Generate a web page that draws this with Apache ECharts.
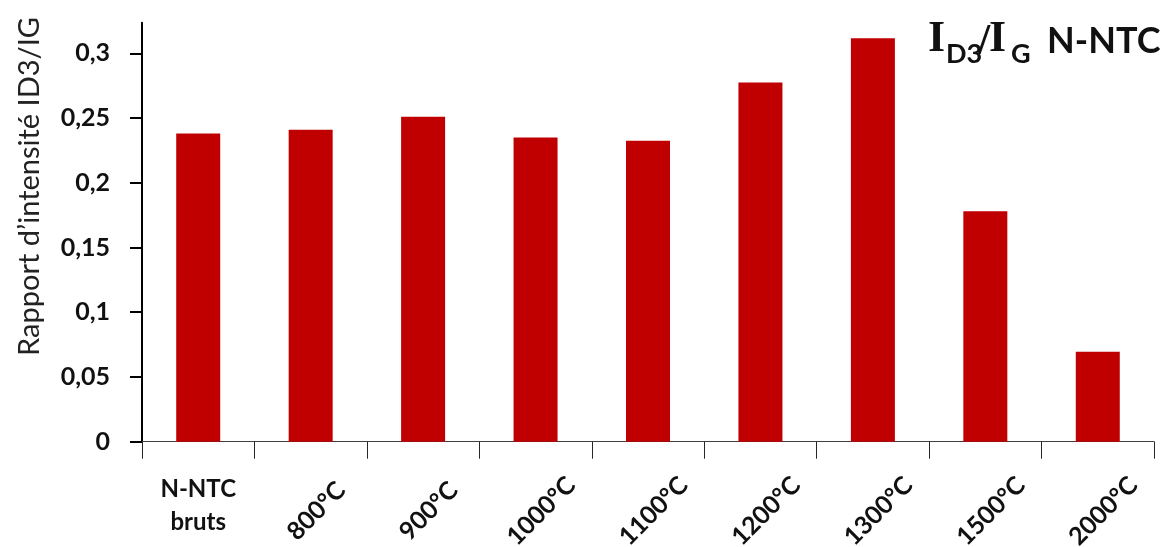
<!DOCTYPE html>
<html>
<head>
<meta charset="utf-8">
<script src="https://cdn.jsdelivr.net/npm/echarts@6/dist/echarts.min.js"></script>
<style>
  html, body { margin: 0; padding: 0; background: #ffffff; }
  #chart { width: 1173px; height: 547px; }
</style>
</head>
<body>
<div id="chart"></div>
<script>
// ---- data ----
const categories = ['N-NTC\nbruts', '800°C', '900°C', '1000°C', '1100°C', '1200°C', '1300°C', '1500°C', '2000°C'];
const ratioValues = [0.238, 0.241, 0.251, 0.235, 0.2325, 0.2775, 0.3115, 0.178, 0.0695];
const yTicks = [0, 0.05, 0.1, 0.15, 0.2, 0.25, 0.3];
const yAxisTitle = 'Rapport d’intensité ID3/IG';
const titleParts = ['I', 'D3', '/', 'I', 'G', 'N-NTC'];

const chart = echarts.init(document.getElementById('chart'), null, { renderer: 'canvas' });

const sans = 'Lato';
const serif = '"Liberation Serif", "Times New Roman", serif';

const option = {
  backgroundColor: '#ffffff',
  animation: false,
  grid: {
    left: 142, right: 19, top: 22.7, bottom: 105.3,
    containLabel: false, outerBoundsMode: 'none'
  },
  xAxis: [
    {
      type: 'category',
      data: categories,
      boundaryGap: true,
      axisLine: { show: true, lineStyle: { color: '#404040', width: 1 } },
      axisTick: { show: true, interval: 0, length: 17, lineStyle: { color: '#262626', width: 1 } },
      axisLabel: {
        interval: 0, rotate: 45, hideOverlap: false,
        align: 'center', padding: [0, 0, 0, 16], margin: 75,
        fontFamily: sans, fontWeight: 'bold', fontSize: 25, color: '#111',
        formatter: (v, i) => (i === 0 ? '' : v)
      },
      splitLine: { show: false }
    },
    {
      type: 'category',
      data: categories,
      position: 'bottom',
      boundaryGap: true,
      axisLine: { show: false },
      axisTick: { show: false },
      axisLabel: {
        interval: 0, rotate: 0, hideOverlap: false,
        align: 'center', margin: 31, lineHeight: 33,
        fontFamily: sans, fontWeight: 'bold', fontSize: 24, color: '#111',
        formatter: (v, i) => (i === 0 ? v : '')
      },
      splitLine: { show: false }
    }
  ],
  yAxis: {
    type: 'value',
    min: 0, max: 0.3236,
    axisLine: { show: true, lineStyle: { color: '#000', width: 2 } },
    axisTick: { show: true, customValues: yTicks, length: 12, lineStyle: { color: '#000', width: 2 } },
    axisLabel: {
      customValues: yTicks, margin: 32,
      fontFamily: sans, fontWeight: 'bold', fontSize: 25, color: '#111',
      formatter: v => String(v).replace('.', ',')
    },
    splitLine: { show: false }
  },
  series: [{
    type: 'bar',
    xAxisIndex: 0,
    data: ratioValues,
    barWidth: 44,
    itemStyle: { color: '#C00000' }
  }],
  graphic: [
    {
      type: 'text', x: 30, y: 186.5, rotation: Math.PI / 2,
      style: { text: yAxisTitle, font: '29px Lato', fill: '#222', align: 'center', verticalAlign: 'middle' }
    },
    { type: 'text', x: 928, y: 39.6, style: { text: titleParts[0], font: 'bold 44px ' + serif, fill: '#111', align: 'left', verticalAlign: 'middle' } },
    { type: 'text', x: 946, y: 54, style: { text: titleParts[1], font: 'bold 27px Lato', fill: '#111', align: 'left', verticalAlign: 'middle' } },
    { type: 'text', x: 978, y: 43, style: { text: titleParts[2], font: 'bold 44px ' + serif, fill: '#111', align: 'left', verticalAlign: 'middle' } },
    { type: 'text', x: 989, y: 39.6, style: { text: titleParts[3], font: 'bold 44px ' + serif, fill: '#111', align: 'left', verticalAlign: 'middle' } },
    { type: 'text', x: 1011, y: 54, style: { text: titleParts[4], font: 'bold 27px Lato', fill: '#111', align: 'left', verticalAlign: 'middle' } },
    { type: 'text', x: 1047, y: 41.7, style: { text: titleParts[5], font: 'bold 36px Lato', fill: '#111', align: 'left', verticalAlign: 'middle' } }
  ]
};

chart.setOption(option);
</script>
</body>
</html>
